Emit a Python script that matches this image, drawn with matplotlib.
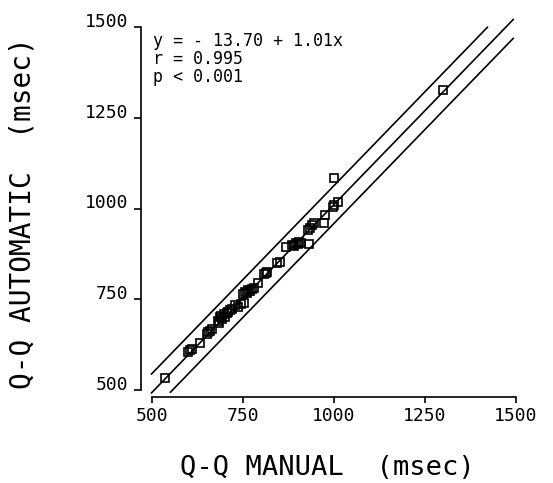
import matplotlib
matplotlib.use("Agg")
import matplotlib.pyplot as plt
import numpy as np

# Data
manual = [535, 600, 605, 610, 632, 650, 655, 660, 665, 680, 685, 688, 690, 693,
          697, 700, 705, 710, 715, 720, 728, 735, 745, 750, 752, 755, 760, 765,
          770, 775, 780, 790, 808, 812, 815, 843, 852, 868, 885, 890, 895, 900,
          905, 910, 930, 928, 935, 940, 945, 972, 975, 998, 1000, 1012, 1000, 1300]
automatic = [532, 605, 610, 612, 630, 655, 660, 662, 668, 690, 685, 700, 705, 695,
             710, 700, 712, 715, 720, 722, 735, 730, 738, 765, 740, 770, 768, 775,
             772, 778, 780, 795, 820, 822, 825, 850, 853, 893, 900, 898, 905, 902,
             908, 905, 903, 942, 945, 955, 960, 960, 982, 1005, 1085, 1017, 1010, 1326]

# Regression line and two band lines as drawn in the picture
line_intercepts = [-24.0, 28.0, -76.0]     # middle, upper, lower
line_slope = 1.035
line_x_start = [497, 497, 549]
line_x_end = [1494, 1423, 1494]

ticks = [500, 750, 1000, 1250, 1500]
annotation = "y = - 13.70 + 1.01x\nr = 0.995\np < 0.001"
xlabel = "Q-Q MANUAL  (msec)"
ylabel = "Q-Q AUTOMATIC  (msec)"

plt.rcParams['font.family'] = ['DejaVu Sans Mono', 'DejaVu Sans']

fig = plt.figure(figsize=(5.53, 4.83), dpi=100)
ax = fig.add_axes([152/553, 1-390/483, 364/553, 363/483])

for b, xs, xe in zip(line_intercepts, line_x_start, line_x_end):
    xx = np.array([xs, xe], dtype=float)
    ax.plot(xx, b + line_slope*xx, color='black', lw=1.2, clip_on=False,
            solid_capstyle='butt')

ax.plot(manual, automatic, linestyle='none', marker='s', markersize=5.5,
        markerfacecolor='none', markeredgecolor='black', markeredgewidth=1.2,
        clip_on=False)

ax.set_xlim(500, 1500)
ax.set_ylim(500, 1500)
ax.set_xticks(ticks)
ax.set_yticks(ticks)
ax.set_xticklabels([str(t) for t in ticks])
ax.set_yticklabels([str(t) for t in ticks])

for s in ['top', 'right']:
    ax.spines[s].set_visible(False)
ax.spines['left'].set_position(('outward', 8))
ax.spines['bottom'].set_position(('outward', 5))
ax.spines['left'].set_linewidth(1.2)
ax.spines['bottom'].set_linewidth(1.2)

ax.tick_params(axis='y', direction='out', length=5, width=1.2, pad=4, labelsize=13)
ax.tick_params(axis='x', direction='out', length=4, width=1.2, pad=3, labelsize=13)
for lab in ax.get_yticklabels():
    lab.set_va('baseline')

ax.set_xlabel(xlabel, fontsize=19.5)
ax.set_ylabel(ylabel, fontsize=20)
ax.xaxis.set_label_coords(0.481, -0.178)
ax.yaxis.set_label_coords(-0.316, 0.487)
ax.xaxis.label.set_va('top')

ax.text(0.003, 0.985, annotation, transform=ax.transAxes, fontsize=12,
        va='top', ha='left', linespacing=1.0)

fig.savefig("out.png", dpi=100)
